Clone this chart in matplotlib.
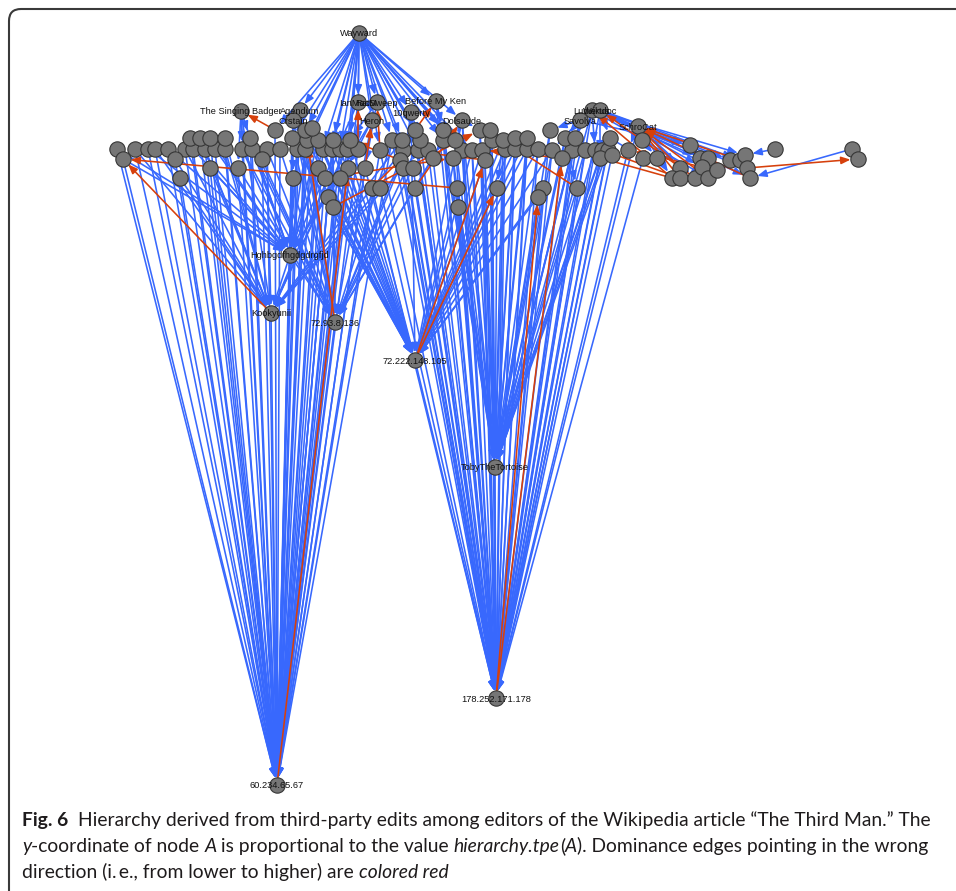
import matplotlib
matplotlib.use("Agg")
import matplotlib.pyplot as plt
from matplotlib.patches import FancyArrowPatch, FancyBboxPatch
from matplotlib.transforms import IdentityTransform

# ---- nodes: layout x and depth (depth grows as hierarchy.tpe falls) ----
node_names = [
    "Wayward", "The Singing Badger", "Agendum", "Crstain", "IanMacM", "RatSweep",
    "Heron", "Before My Ken", "10qwerty", "Dolsaude", "Ludvikus", "Wertdoc",
    "Savolya", "SchroCat", "Hghbgdfhgdgdrgfjd", "Kookyunii", "72.93.8.136",
    "72.222.148.105", "TobyTheTortoise", "178.252.171.178", "60.234.65.67",
]
named_x = [359, 241, 300, 293, 358, 377, 372, 436, 411, 462, 592, 600,
           580, 638, 290, 271, 335, 415, 495, 496, 277]
named_y = [33, 111, 110, 120, 102, 102, 120, 101, 112, 120, 110, 110,
           120, 126, 255, 313, 322, 360, 467, 698, 785]

# unnamed editors, roughly row by row
row1_x = [117, 135, 148, 155, 168, 185, 193, 205, 215, 225, 242, 252, 267, 280,
          297, 305, 323, 332, 340, 347, 358, 380, 403, 418, 428, 462, 472, 482,
          505, 515, 527, 538, 552, 572, 585, 595, 602, 608, 628]
row1_y = [149, 149, 149, 149, 149, 149, 149, 149, 149, 149, 149, 149, 149, 149,
          149, 149, 149, 149, 149, 149, 149, 150, 150, 150, 150, 150, 150, 150,
          149, 149, 149, 149, 150, 150, 150, 150, 150, 150, 150]
row2_x = [190, 200, 210, 225, 250, 292, 307, 318, 333, 350, 392, 402, 420, 443,
          455, 492, 503, 515, 527, 565, 575, 610, 642]
row2_y = [138, 138, 138, 138, 138, 138, 140, 140, 140, 140, 140, 140, 140, 140,
          140, 140, 140, 138, 138, 138, 138, 138, 140]
row3_x = [275, 305, 312, 415, 443, 480, 490, 550]
row3_y = [130, 130, 128, 130, 130, 130, 130, 130]
row4_x = [123, 175, 210, 238, 262, 318, 348, 365, 400, 403, 413, 433, 453, 485,
          562, 600, 612, 643, 657]
row4_y = [159, 159, 168, 168, 159, 168, 168, 168, 160, 168, 168, 158, 158, 160,
          158, 158, 155, 158, 158]
row5_x = [180, 293, 325, 340, 372, 380, 415, 457, 497, 543, 577]
row5_y = [178, 178, 178, 178, 188, 188, 188, 188, 188, 188, 188]
row6_x = [328, 333, 458, 538]
row6_y = [197, 207, 207, 197]
tail_x = [690, 680, 672, 680, 695, 700, 708, 702, 708, 717, 730, 740, 745, 747,
          750, 775, 852, 858]
tail_y = [145, 168, 178, 178, 178, 158, 158, 167, 178, 170, 160, 160, 155, 168,
          178, 149, 149, 159]

xs = named_x + row1_x + row2_x + row3_x + row4_x + row5_x + row6_x + tail_x
ys = named_y + row1_y + row2_y + row3_y + row4_y + row5_y + row6_y + tail_y

# ---- dominance edges (source -> target), by node index ----
wayward_out = [83, 2, 65, 66, 84, 36, 37, 68, 38, 39, 40, 41, 4, 5, 6, 69, 97,
               42, 70, 71, 8, 43, 86, 72, 7, 44, 45, 73, 87, 9, 46, 74, 47]
into_hghbg = [21, 23, 25, 27, 29, 31, 60, 62, 91, 93, 35, 37, 41, 66, 67, 96,
              111, 3, 4, 6, 1, 32, 64]
into_kooky = [22, 24, 26, 28, 30, 61, 63, 92, 93, 110, 14, 39, 40, 43, 69, 71,
              100, 115, 1, 33]
into_72_93 = [31, 32, 33, 34, 36, 38, 64, 65, 66, 68, 70, 72, 73, 86, 94, 95,
              99, 101, 102, 14, 3, 2, 6]
into_72_222 = [35, 36, 37, 38, 39, 40, 65, 66, 67, 68, 69, 84, 85, 97, 98, 112,
               113, 121, 122, 47, 48, 49, 50, 51, 52, 53, 75, 76, 77, 78, 117,
               118, 119, 124, 8, 9]
into_toby = [46, 47, 48, 49, 50, 51, 52, 53, 54, 55, 56, 57, 58, 73, 74, 75, 76,
             77, 78, 79, 80, 81, 87, 88, 89, 90, 103, 104, 105, 106, 117, 118,
             119, 120, 123, 124, 9, 10, 12]
into_178 = [42, 43, 44, 45, 46, 47, 48, 49, 50, 51, 52, 53, 54, 55, 56, 57, 58,
            59, 70, 71, 72, 73, 74, 75, 76, 77, 78, 79, 80, 81, 86, 87, 88, 89,
            90, 99, 100, 101, 102, 103, 104, 106, 107, 108, 114, 115, 116, 117,
            119, 120, 123, 17, 18, 7, 8, 9, 10, 11, 12, 13]
into_60 = [21, 22, 23, 24, 25, 26, 27, 28, 29, 30, 31, 32, 33, 34, 35, 36, 37,
           38, 39, 40, 41, 42, 60, 61, 62, 63, 64, 65, 66, 67, 68, 69, 70, 83,
           84, 85, 91, 92, 93, 94, 95, 96, 97, 98, 110, 111, 112, 113, 114, 121,
           122, 14, 15, 16, 1, 2, 3, 4, 6]
other_edges = [
    (1, 31), (1, 64), (1, 94), (2, 65), (2, 84), (3, 111), (5, 69), (5, 98),
    (6, 97), (7, 73), (7, 87), (8, 72), (8, 100), (9, 74), (9, 103), (12, 53),
    (12, 79), (10, 105), (11, 81), (13, 59), (13, 82), (12, 90), (10, 56),
    (11, 106), (9, 88), (86, 101), (73, 102), (76, 118), (81, 108), (82, 109),
    (79, 120),
    (10, 130), (10, 131), (10, 137), (10, 138), (11, 132), (11, 134), (11, 135),
    (11, 136), (13, 126), (13, 127), (13, 129), (13, 125), (12, 125), (140, 137),
    (141, 139), (11, 139), (10, 133),
    (126, 13), (128, 13), (133, 13), (136, 13), (139, 13), (127, 10), (129, 11),
    (138, 142), (127, 54), (128, 57), (132, 59),
    (83, 1), (85, 3), (41, 4), (42, 5), (98, 6), (86, 7), (117, 91), (112, 103),
    (16, 66), (20, 97), (15, 91), (19, 124), (19, 105), (17, 104), (17, 118),
    (114, 72), (105, 48), (120, 76), (104, 43), (99, 69), (116, 9), (122, 88),
]

edges = [(0, t) for t in wayward_out]
for hub, srcs in [(14, into_hghbg), (15, into_kooky), (16, into_72_93),
                  (17, into_72_222), (18, into_toby), (19, into_178), (20, into_60)]:
    edges += [(s, hub) for s in srcs]
edges += other_edges

BLUE = "#3868fd"
RED = "#d6400c"

fig = plt.figure(figsize=(9.56, 8.91), dpi=100)
ax = fig.add_axes([0, 0, 1, 1])
ax.set_xlim(0, 956)
ax.set_ylim(891, 0)
ax.axis("off")

# blue (downward) edges first, wrong-way red ones on top
for wrong in (False, True):
    for s, t in edges:
        if (ys[s] > ys[t]) != wrong:
            continue
        arr = FancyArrowPatch((xs[s], ys[s]), (xs[t], ys[t]),
                              arrowstyle="-|>,head_length=0.55,head_width=0.22",
                              mutation_scale=10, shrinkA=0, shrinkB=5.4,
                              color=RED if wrong else BLUE, lw=1.15, zorder=2)
        ax.add_patch(arr)

ax.scatter(xs, ys, s=122, c="#767676", edgecolors="#363636", linewidths=0.8,
           zorder=3)
for name, x, y in zip(node_names, named_x, named_y):
    ax.text(x, y + 1, name, ha="center", va="center", fontsize=6.7,
            family="Liberation Sans", color="#111111", zorder=4)

# frame with rounded top-left corner
frame = FancyBboxPatch((9, -120), 1200, 891 - 9 + 120,
                       boxstyle="round,pad=0,rounding_size=12",
                       transform=IdentityTransform(), fill=False,
                       edgecolor="#3a3a3a", lw=1.5)
fig.add_artist(frame)

# caption with mixed bold / italic runs
cap_font = "Lato"
caption = [
    (826, [("Fig. 6  ", "bold", "normal"),
           ("Hierarchy derived from third-party edits among editors of the Wikipedia "
            "article \u201cThe Third Man.\u201d The", "normal", "normal")]),
    (852, [("y", "normal", "italic"), ("-coordinate of node ", "normal", "normal"),
           ("A", "normal", "italic"), (" is proportional to the value ", "normal", "normal"),
           ("hierarchy.tpe", "normal", "italic"), ("(", "normal", "normal"),
           ("A", "normal", "italic"),
           ("). Dominance edges pointing in the wrong", "normal", "normal")]),
    (878, [("direction (i.\u2009e., from lower to higher) are ", "normal", "normal"),
           ("colored red", "normal", "italic")]),
]
renderer = fig.canvas.get_renderer()


def advance(txt, weight, style, size):
    a = fig.text(0, 0, txt + "x", fontsize=size, fontweight=weight,
                 fontstyle=style, family=[cap_font, "DejaVu Sans"])
    b = fig.text(0, 0, "x", fontsize=size, fontweight=weight,
                 fontstyle=style, family=[cap_font, "DejaVu Sans"])
    w = a.get_window_extent(renderer).width - b.get_window_extent(renderer).width
    a.remove()
    b.remove()
    return w


base = 12.0
natural = sum(advance(t, w, s, base) for t, w, s in caption[0][1])
size = base * 906 / natural

for y_img, parts in caption:
    x = 22
    for txt, weight, style in parts:
        fig.text(x, 891 - y_img, txt, fontsize=size, fontweight=weight,
                 fontstyle=style, family=[cap_font, "DejaVu Sans"],
                 color="#1e1b1c", va="baseline", ha="left",
                 transform=IdentityTransform())
        x += advance(txt, weight, style, size)

fig.savefig("out.png", dpi=100)
